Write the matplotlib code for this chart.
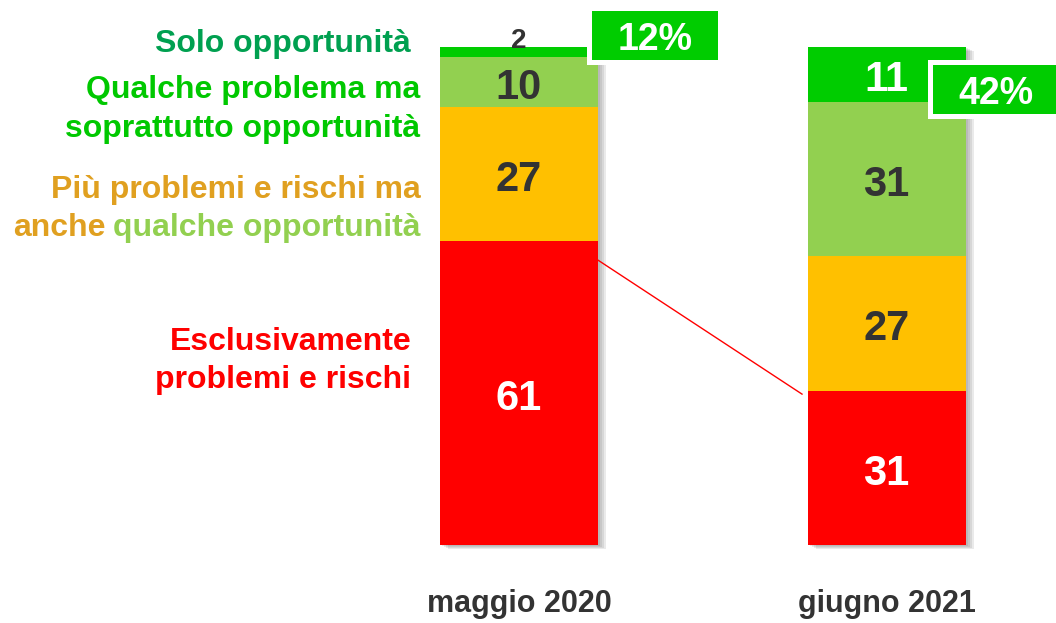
import matplotlib
matplotlib.use("Agg")
import matplotlib.pyplot as plt
from matplotlib.patches import Rectangle
import matplotlib.patheffects as pe

# Data
periods = ["maggio 2020", "giugno 2021"]
categories = ["Esclusivamente problemi e rischi",
              "Più problemi e rischi ma anche qualche opportunità",
              "Qualche problema ma soprattutto opportunità",
              "Solo opportunità"]
rischi = [61, 31]
piu_problemi = [27, 27]
qualche_problema = [10, 31]
solo_opport = [2, 11]

# Colors
RED = "#ff0000"
YELLOW = "#ffc000"
LIGHT_GREEN = "#92d050"
GREEN = "#00cc00"
DARK = "#333333"

plt.rcParams["font.family"] = ["Liberation Sans", "DejaVu Sans"]

fig = plt.figure(figsize=(10.56, 6.23), dpi=100)
ax = fig.add_axes([0, 0, 1, 1])
ax.set_xlim(-1.412, 1.461)
ax.set_ylim(-15.66, 109.44)
ax.axis("off")

xs = [0, 1]
width = 0.43
series = [rischi, piu_problemi, qualche_problema, solo_opport]
colors = [RED, YELLOW, LIGHT_GREEN, GREEN]

# shadow behind each full stack
totals = [sum(s[i] for s in series) for i in range(len(xs))]
shadow = [pe.SimplePatchShadow(offset=(o, -o * 0.5), shadow_rgbFace="#555555", alpha=0.12)
          for o in (1.5, 3, 4.5, 6)]
ax.bar(xs, totals, width, color="white", zorder=1,
       path_effects=shadow + [pe.Normal()])

bottoms = [0, 0]
for vals, col in zip(series, colors):
    ax.bar(xs, vals, width, bottom=bottoms, color=col, zorder=2, linewidth=0)
    bottoms = [b + v for b, v in zip(bottoms, vals)]


def seg_label(x, y, v, color, size=30):
    ax.text(x, y, str(v), ha="center", va="center", color=color,
            fontsize=size, fontweight="bold", zorder=5)


for i, x in enumerate(xs):
    seg_label(x, rischi[i] / 2 - 1.2, rischi[i], "white")
    seg_label(x, rischi[i] + piu_problemi[i] / 2 - 1.2, piu_problemi[i], DARK)
    seg_label(x, rischi[i] + piu_problemi[i] + qualche_problema[i] / 2 - 1.2,
              qualche_problema[i], DARK)

# top segment: tiny one labelled above, big one inside
seg_label(xs[0], 101.3, solo_opport[0], DARK, size=20)
seg_label(xs[1], 100 - solo_opport[1] / 2 - 1.2, solo_opport[1], "white")

# connecting line between red segments
ax.plot([xs[0] + width / 2, xs[1] - width / 2 - 0.015],
        [rischi[0] - 3.8, rischi[1] - 0.7], color=RED, lw=1, zorder=3)

# percentage boxes (top two categories), green with white rim
boxes = [(0.199, 97.4, 0.343, 9.9), (1.127, 86.5, 0.40, 9.9)]
rim_x, rim_y = 0.0136, 1.0
for i, (bx, by, bw, bh) in enumerate(boxes):
    ax.add_patch(Rectangle((bx - rim_x, by - rim_y), bw + 2 * rim_x, bh + 2 * rim_y,
                           facecolor="white", linewidth=0, zorder=6, clip_on=False))
    ax.add_patch(Rectangle((bx, by), bw, bh, facecolor=GREEN,
                           linewidth=0, zorder=6, clip_on=False))
    pct = solo_opport[i] + qualche_problema[i]
    ax.text(bx + 0.343 / 2, by + bh / 2 - 0.9, f"{pct}%", ha="center", va="center",
            color="white", fontsize=27, fontweight="bold", zorder=7)

# period labels
for x, p in zip(xs, periods):
    ax.text(x, -11.8, p, ha="center", va="center", color=DARK, fontsize=22,
            fontweight="bold")

# category labels on the left
lx = -0.268
lab = dict(ha="right", va="center", fontsize=23, fontweight="bold")
ax.text(lx - 0.027, 100.6, "Solo opportunità", color="#00a050", **lab)
ax.text(lx, 91.4, "Qualche problema ma", color="#00c800", **lab)
ax.text(lx, 83.6, "soprattutto opportunità", color="#00c800", **lab)
ax.text(lx, 71.2, "Più problemi e rischi ma", color="#e0a020", **lab)
t2 = ax.text(lx, 63.7, "qualche opportunità", color=LIGHT_GREEN, **lab)
r = fig.canvas.get_renderer()
bb = t2.get_window_extent(r)
x_left = ax.transData.inverted().transform((bb.x0 - 7, 0))[0]
ax.text(x_left, 63.7, "anche", color="#e0a020", **lab)
ax.text(lx - 0.025, 40.8, "Esclusivamente", color=RED, **lab)
ax.text(lx - 0.025, 33.2, "problemi e rischi", color=RED, **lab)

fig.savefig("out.png", dpi=100)
